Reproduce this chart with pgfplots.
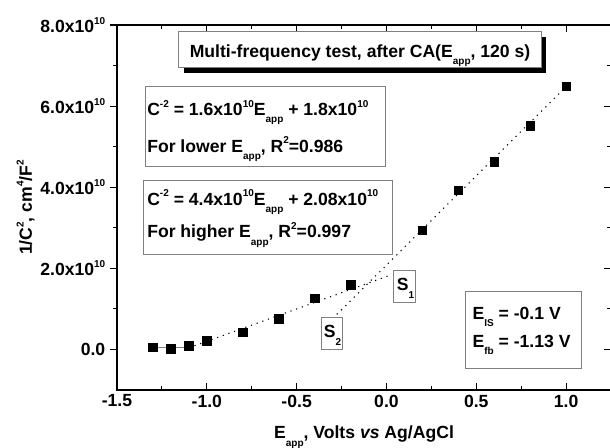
\documentclass[border=0pt]{standalone}
\usepackage{fontspec}
\setmainfont{Liberation Sans}
\usepackage{pgfplots}
\pgfplotsset{compat=1.18}
\newcommand\sps[1]{\raisebox{0.9ex}{\fontsize{7.5}{8}\selectfont #1}}
\newcommand\sbs[1]{\raisebox{-0.8ex}{\fontsize{7.5}{8}\selectfont #1}}
\newcommand\mf{\fontsize{13.2}{15}\selectfont\bfseries}
\begin{document}
\begin{tikzpicture}[font=\mf]
\pgfplotsset{common/.style={
 scale only axis, width=370.5pt, height=273.75pt,
 at={(0pt,0pt)}, anchor=south west,
 xmin=-1.5, xmax=1.25, ymin=-1, ymax=8,
 xtick={-1.5,-1,-0.5,0,0.5,1},
 ytick={0,2,4,6,8},
 minor x tick num=1, minor y tick num=1,
 major tick length=5.25pt, minor tick length=3pt,
 axis line style={line width=0.8pt},
 every tick/.style={line width=0.8pt, black},
 tick label style={font=\mf},
 label style={font=\mf},
}}
\begin{axis}[common,
 xticklabels={-1.5,-1.0,-0.5,0.0,0.5,1.0},
 yticklabels={0.0, 2.0x10\sps{10}, 4.0x10\sps{10}, 6.0x10\sps{10}, 8.0x10\sps{10}},
 xtick align=inside, ytick align=outside, ytick pos=left,
 xlabel={E\sbs{app}, Volts \textit{vs} Ag/AgCl},
 ylabel={1/C\sps{2}, cm\sps{4}/F\sps{2}},
 xlabel style={at={(axis description cs:0.5,-0.134)}, anchor=base},
 ylabel style={at={(axis description cs:-0.185,0.5)}, anchor=center},
 clip=false,
]
% fits
\addplot[black, line width=0.8pt, dash pattern=on 0.9pt off 3.6pt] coordinates {(-1.1,0.04) (0.02,1.83)};
\addplot[black, line width=0.8pt, dash pattern=on 0.9pt off 3.6pt] coordinates {(-0.3,0.76) (1.0,6.48)};
\addplot[gray, line width=0.8pt] coordinates {(-1.3,0.04) (-1.1,0.04)};
% data
\addplot[only marks, mark=square*, mark size=3.2pt, black] coordinates {
(-1.3,0.05) (-1.2,0.02) (-1.1,0.09) (-1.0,0.21) (-0.8,0.42) (-0.6,0.75)
(-0.4,1.26) (-0.2,1.60) (0.2,2.94) (0.4,3.92) (0.6,4.63) (0.8,5.51) (1.0,6.49)};
% title box with shadow
\node[fill=black, minimum width=272pt, minimum height=27pt, inner sep=0pt, xshift=3.75pt, yshift=-3.75pt] at (axis cs:-0.147,7.385) {};
\node[fill=white, draw=black!50, line width=0.7pt, minimum width=272pt, minimum height=27pt, inner sep=0pt] at (axis cs:-0.147,7.385) {};
\node[anchor=base, inner sep=0pt] at (axis cs:-0.147,7.21) {Multi-frequency test, after CA(E\sbs{app}, 120 s)};
% box 1
\draw[draw=black!50, line width=0.7pt, fill=white] (axis cs:-1.344,6.48) rectangle (axis cs:-0.006,4.52);
\node[anchor=base west, inner sep=0pt] at (axis cs:-1.333,5.77) {C\sps{-2} = 1.6x10\sps{10}E\sbs{app} + 1.8x10\sps{10}};
\node[anchor=base west, inner sep=0pt] at (axis cs:-1.333,4.86) {For lower E\sbs{app}, R\sps{2}=0.986};
% box 2
\draw[draw=black!50, line width=0.7pt, fill=white] (axis cs:-1.35,4.17) rectangle (axis cs:0.033,2.33);
\node[anchor=base west, inner sep=0pt] at (axis cs:-1.333,3.56) {C\sps{-2} = 4.4x10\sps{10}E\sbs{app} + 2.08x10\sps{10}};
\node[anchor=base west, inner sep=0pt] at (axis cs:-1.333,2.75) {For higher E\sbs{app}, R\sps{2}=0.997};
% S1, S2
\draw[draw=black!50, line width=0.7pt, fill=white] (axis cs:0.039,1.94) rectangle (axis cs:0.161,1.15);
\node[anchor=base west, inner sep=0pt] at (axis cs:0.056,1.45) {S\sbs{1}};
\draw[draw=black!50, line width=0.7pt, fill=white] (axis cs:-0.361,0.785) rectangle (axis cs:-0.244,0.0);
\node[anchor=base west, inner sep=0pt] at (axis cs:-0.35,0.29) {S\sbs{2}};
% E box
\draw[draw=black!50, line width=0.7pt, fill=white] (axis cs:0.439,1.42) rectangle (axis cs:1.083,-0.47);
\node[anchor=base west, inner sep=0pt] at (axis cs:0.478,0.74) {E\sbs{IS} = -0.1 V};
\node[anchor=base west, inner sep=0pt] at (axis cs:0.478,0.05) {E\sbs{fb} = -1.13 V};
\end{axis}
\begin{axis}[common,
 axis x line=none, axis y line*=right,
 ytick align=inside, yticklabels={},
]
\end{axis}
\pgfresetboundingbox
\path[use as bounding box] (-87.75pt,-42.75pt) rectangle (369.75pt,292.5pt);
\end{tikzpicture}
\end{document}
